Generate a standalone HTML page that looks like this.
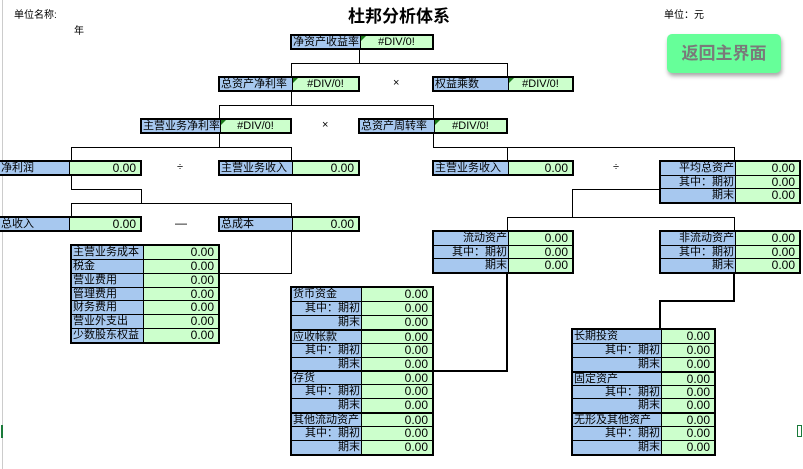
<!DOCTYPE html>
<html><head><meta charset="utf-8"><style>
body{margin:0;width:803px;height:469px;background:#fff;position:relative;overflow:hidden;font-family:"Liberation Sans","Noto Sans CJK SC",sans-serif;font-size:12px;color:#000}
.a{position:absolute}
.b{position:absolute;border:2px solid #000;box-sizing:border-box;display:grid;background:#000;gap:1px}
.l{background:#a7c8ef;white-space:nowrap;overflow:hidden;line-height:12px;padding:0 1px;font-size:11px}
.r{text-align:right}
.v{background:#ccffcc;text-align:right;padding-right:4px;line-height:12px;position:relative}
.v.c{text-align:center;padding:0;font-size:11px}
.tri:before{content:"";position:absolute;left:0;top:0;border-top:5px solid #1a7a1a;border-right:5px solid transparent}
.h{position:absolute;height:1px;background:#000}
.vl{position:absolute;width:1px;background:#000}
.H{position:absolute;height:2px;background:#000}
.V{position:absolute;width:2px;background:#000}
</style></head><body>
<div class="a" style="left:2px;top:0;width:1px;height:469px;background:#ccc"></div>
<div class="a" style="left:14px;top:6px;font-size:10px">单位名称:</div>
<div class="a" style="left:74px;top:22px;font-size:10px">年</div>
<div class="a" style="left:348px;top:2px;font-size:17px;font-weight:bold">杜邦分析体系</div>
<div class="a" style="left:664px;top:6px;font-size:10px">单位：元</div>
<div class="a" style="left:667px;top:34px;width:114px;height:39px;background:#66ff99;border-radius:5px;box-shadow:1px 3px 4px rgba(0,0,0,.35);color:#7a7a7a;font-size:17px;font-weight:bold;text-align:center;line-height:39px">返回主界面</div>

<div class="vl" style="left:359px;top:49px;height:14px"></div>
<div class="h" style="left:291px;top:63px;width:217px"></div>
<div class="vl" style="left:291px;top:63px;height:13px"></div>
<div class="vl" style="left:507px;top:63px;height:13px"></div>
<div class="vl" style="left:291px;top:91px;height:14px"></div>
<div class="h" style="left:219px;top:105px;width:215px"></div>
<div class="vl" style="left:219px;top:105px;height:13px"></div>
<div class="vl" style="left:433px;top:105px;height:13px"></div>
<div class="vl" style="left:219px;top:133px;height:14px"></div>
<div class="h" style="left:71px;top:147px;width:221px"></div>
<div class="vl" style="left:71px;top:147px;height:13px"></div>
<div class="vl" style="left:291px;top:147px;height:13px"></div>
<div class="vl" style="left:71px;top:175px;height:14px"></div>
<div class="h" style="left:71px;top:189px;width:71px"></div>
<div class="vl" style="left:141px;top:189px;height:14px"></div>
<div class="h" style="left:71px;top:203px;width:221px"></div>
<div class="vl" style="left:71px;top:203px;height:13px"></div>
<div class="vl" style="left:291px;top:203px;height:13px"></div>
<div class="vl" style="left:291px;top:231px;height:43px"></div>
<div class="h" style="left:219px;top:273px;width:73px"></div>
<div class="vl" style="left:433px;top:133px;height:14px"></div>
<div class="h" style="left:433px;top:147px;width:302px"></div>
<div class="vl" style="left:507px;top:147px;height:13px"></div>
<div class="vl" style="left:734px;top:147px;height:13px"></div>
<div class="h" style="left:572px;top:189px;width:88px"></div>
<div class="vl" style="left:572px;top:189px;height:28px"></div>
<div class="h" style="left:507px;top:217px;width:228px"></div>
<div class="vl" style="left:507px;top:217px;height:13px"></div>
<div class="vl" style="left:734px;top:217px;height:13px"></div>
<div class="V" style="left:506px;top:273px;height:99px"></div>
<div class="H" style="left:433px;top:370px;width:75px"></div>
<div class="V" style="left:733px;top:273px;height:29px"></div>
<div class="H" style="left:659px;top:300px;width:76px"></div>
<div class="V" style="left:659px;top:300px;height:29px"></div>

<div class="a" style="left:393px;top:77px;font-size:11px">×</div>
<div class="a" style="left:322px;top:119px;font-size:11px">×</div>
<div class="a" style="left:177px;top:161px;font-size:11px">÷</div>
<div class="a" style="left:613px;top:161px;font-size:11px">÷</div>
<div class="a" style="left:175px;top:216px">—</div>

<div class="b" style="left:290px;top:34px;width:144px;height:16px;grid-template-columns:68px 1fr"><div class="l">净资产收益率</div><div class="v c tri">#DIV/0!</div></div>
<div class="b" style="left:218px;top:76px;width:142px;height:16px;grid-template-columns:72px 1fr"><div class="l">总资产净利率</div><div class="v c tri">#DIV/0!</div></div>
<div class="b" style="left:432px;top:76px;width:142px;height:16px;grid-template-columns:74px 1fr"><div class="l">权益乘数</div><div class="v c tri">#DIV/0!</div></div>
<div class="b" style="left:140px;top:118px;width:152px;height:16px;grid-template-columns:78px 1fr"><div class="l">主营业务净利率</div><div class="v c tri">#DIV/0!</div></div>
<div class="b" style="left:358px;top:118px;width:150px;height:16px;grid-template-columns:74px 1fr"><div class="l">总资产周转率</div><div class="v c tri">#DIV/0!</div></div>
<div class="b" style="left:0px;top:160px;width:142px;height:16px;grid-template-columns:69px 1fr;border-left:none"><div class="l">净利润</div><div class="v">0.00</div></div>
<div class="b" style="left:218px;top:160px;width:142px;height:16px;grid-template-columns:72px 1fr"><div class="l">主营业务收入</div><div class="v">0.00</div></div>
<div class="b" style="left:432px;top:160px;width:142px;height:16px;grid-template-columns:74px 1fr"><div class="l">主营业务收入</div><div class="v">0.00</div></div>
<div class="b" style="left:0px;top:216px;width:142px;height:16px;grid-template-columns:69px 1fr;border-left:none"><div class="l">总收入</div><div class="v">0.00</div></div>
<div class="b" style="left:218px;top:216px;width:142px;height:16px;grid-template-columns:72px 1fr"><div class="l">总成本</div><div class="v">0.00</div></div>

<div class="b" style="left:659px;top:160px;width:142px;height:44px;grid-template-columns:74px 1fr;grid-auto-rows:1fr">
<div class="l r">平均总资产</div><div class="v">0.00</div><div class="l r">其中：期初</div><div class="v">0.00</div><div class="l r">期末</div><div class="v">0.00</div></div>
<div class="b" style="left:432px;top:230px;width:142px;height:44px;grid-template-columns:74px 1fr;grid-auto-rows:1fr">
<div class="l r">流动资产</div><div class="v">0.00</div><div class="l r">其中：期初</div><div class="v">0.00</div><div class="l r">期末</div><div class="v">0.00</div></div>
<div class="b" style="left:659px;top:230px;width:142px;height:44px;grid-template-columns:74px 1fr;grid-auto-rows:1fr">
<div class="l r">非流动资产</div><div class="v">0.00</div><div class="l r">其中：期初</div><div class="v">0.00</div><div class="l r">期末</div><div class="v">0.00</div></div>

<div class="b" style="left:70px;top:244px;width:150px;height:100px;grid-template-columns:71px 1fr;grid-auto-rows:1fr">
<div class="l">主营业务成本</div><div class="v">0.00</div><div class="l">税金</div><div class="v">0.00</div><div class="l">营业费用</div><div class="v">0.00</div><div class="l">管理费用</div><div class="v">0.00</div><div class="l">财务费用</div><div class="v">0.00</div><div class="l">营业外支出</div><div class="v">0.00</div><div class="l">少数股东权益</div><div class="v">0.00</div></div>

<div class="b" style="left:290px;top:286px;width:144px;height:170px;grid-template-columns:69px 1fr;grid-auto-rows:1fr">
<div class="l">货币资金</div><div class="v">0.00</div><div class="l r">其中：期初</div><div class="v">0.00</div><div class="l r">期末</div><div class="v">0.00</div>
<div class="l" style="border-top:1px solid #000">应收帐款</div><div class="v" style="border-top:1px solid #000">0.00</div><div class="l r">其中：期初</div><div class="v">0.00</div><div class="l r">期末</div><div class="v">0.00</div>
<div class="l" style="border-top:1px solid #000">存货</div><div class="v" style="border-top:1px solid #000">0.00</div><div class="l r">其中：期初</div><div class="v">0.00</div><div class="l r">期末</div><div class="v">0.00</div>
<div class="l" style="border-top:1px solid #000">其他流动资产</div><div class="v" style="border-top:1px solid #000">0.00</div><div class="l r">其中：期初</div><div class="v">0.00</div><div class="l r">期末</div><div class="v">0.00</div></div>

<div class="b" style="left:571px;top:328px;width:145px;height:128px;grid-template-columns:88px 1fr;grid-auto-rows:1fr">
<div class="l">长期投资</div><div class="v">0.00</div><div class="l r">其中：期初</div><div class="v">0.00</div><div class="l r">期末</div><div class="v">0.00</div>
<div class="l" style="border-top:1px solid #000">固定资产</div><div class="v" style="border-top:1px solid #000">0.00</div><div class="l r">其中：期初</div><div class="v">0.00</div><div class="l r">期末</div><div class="v">0.00</div>
<div class="l" style="border-top:1px solid #000">无形及其他资产</div><div class="v" style="border-top:1px solid #000">0.00</div><div class="l r">其中：期初</div><div class="v">0.00</div><div class="l r">期末</div><div class="v">0.00</div></div>

<div class="a" style="left:1px;top:425px;width:2px;height:13px;background:#1a7a3a"></div>
<div class="a" style="left:797px;top:425px;width:5px;height:12px;border:1px solid #1a7a3a;box-sizing:border-box"></div>
</body></html>
